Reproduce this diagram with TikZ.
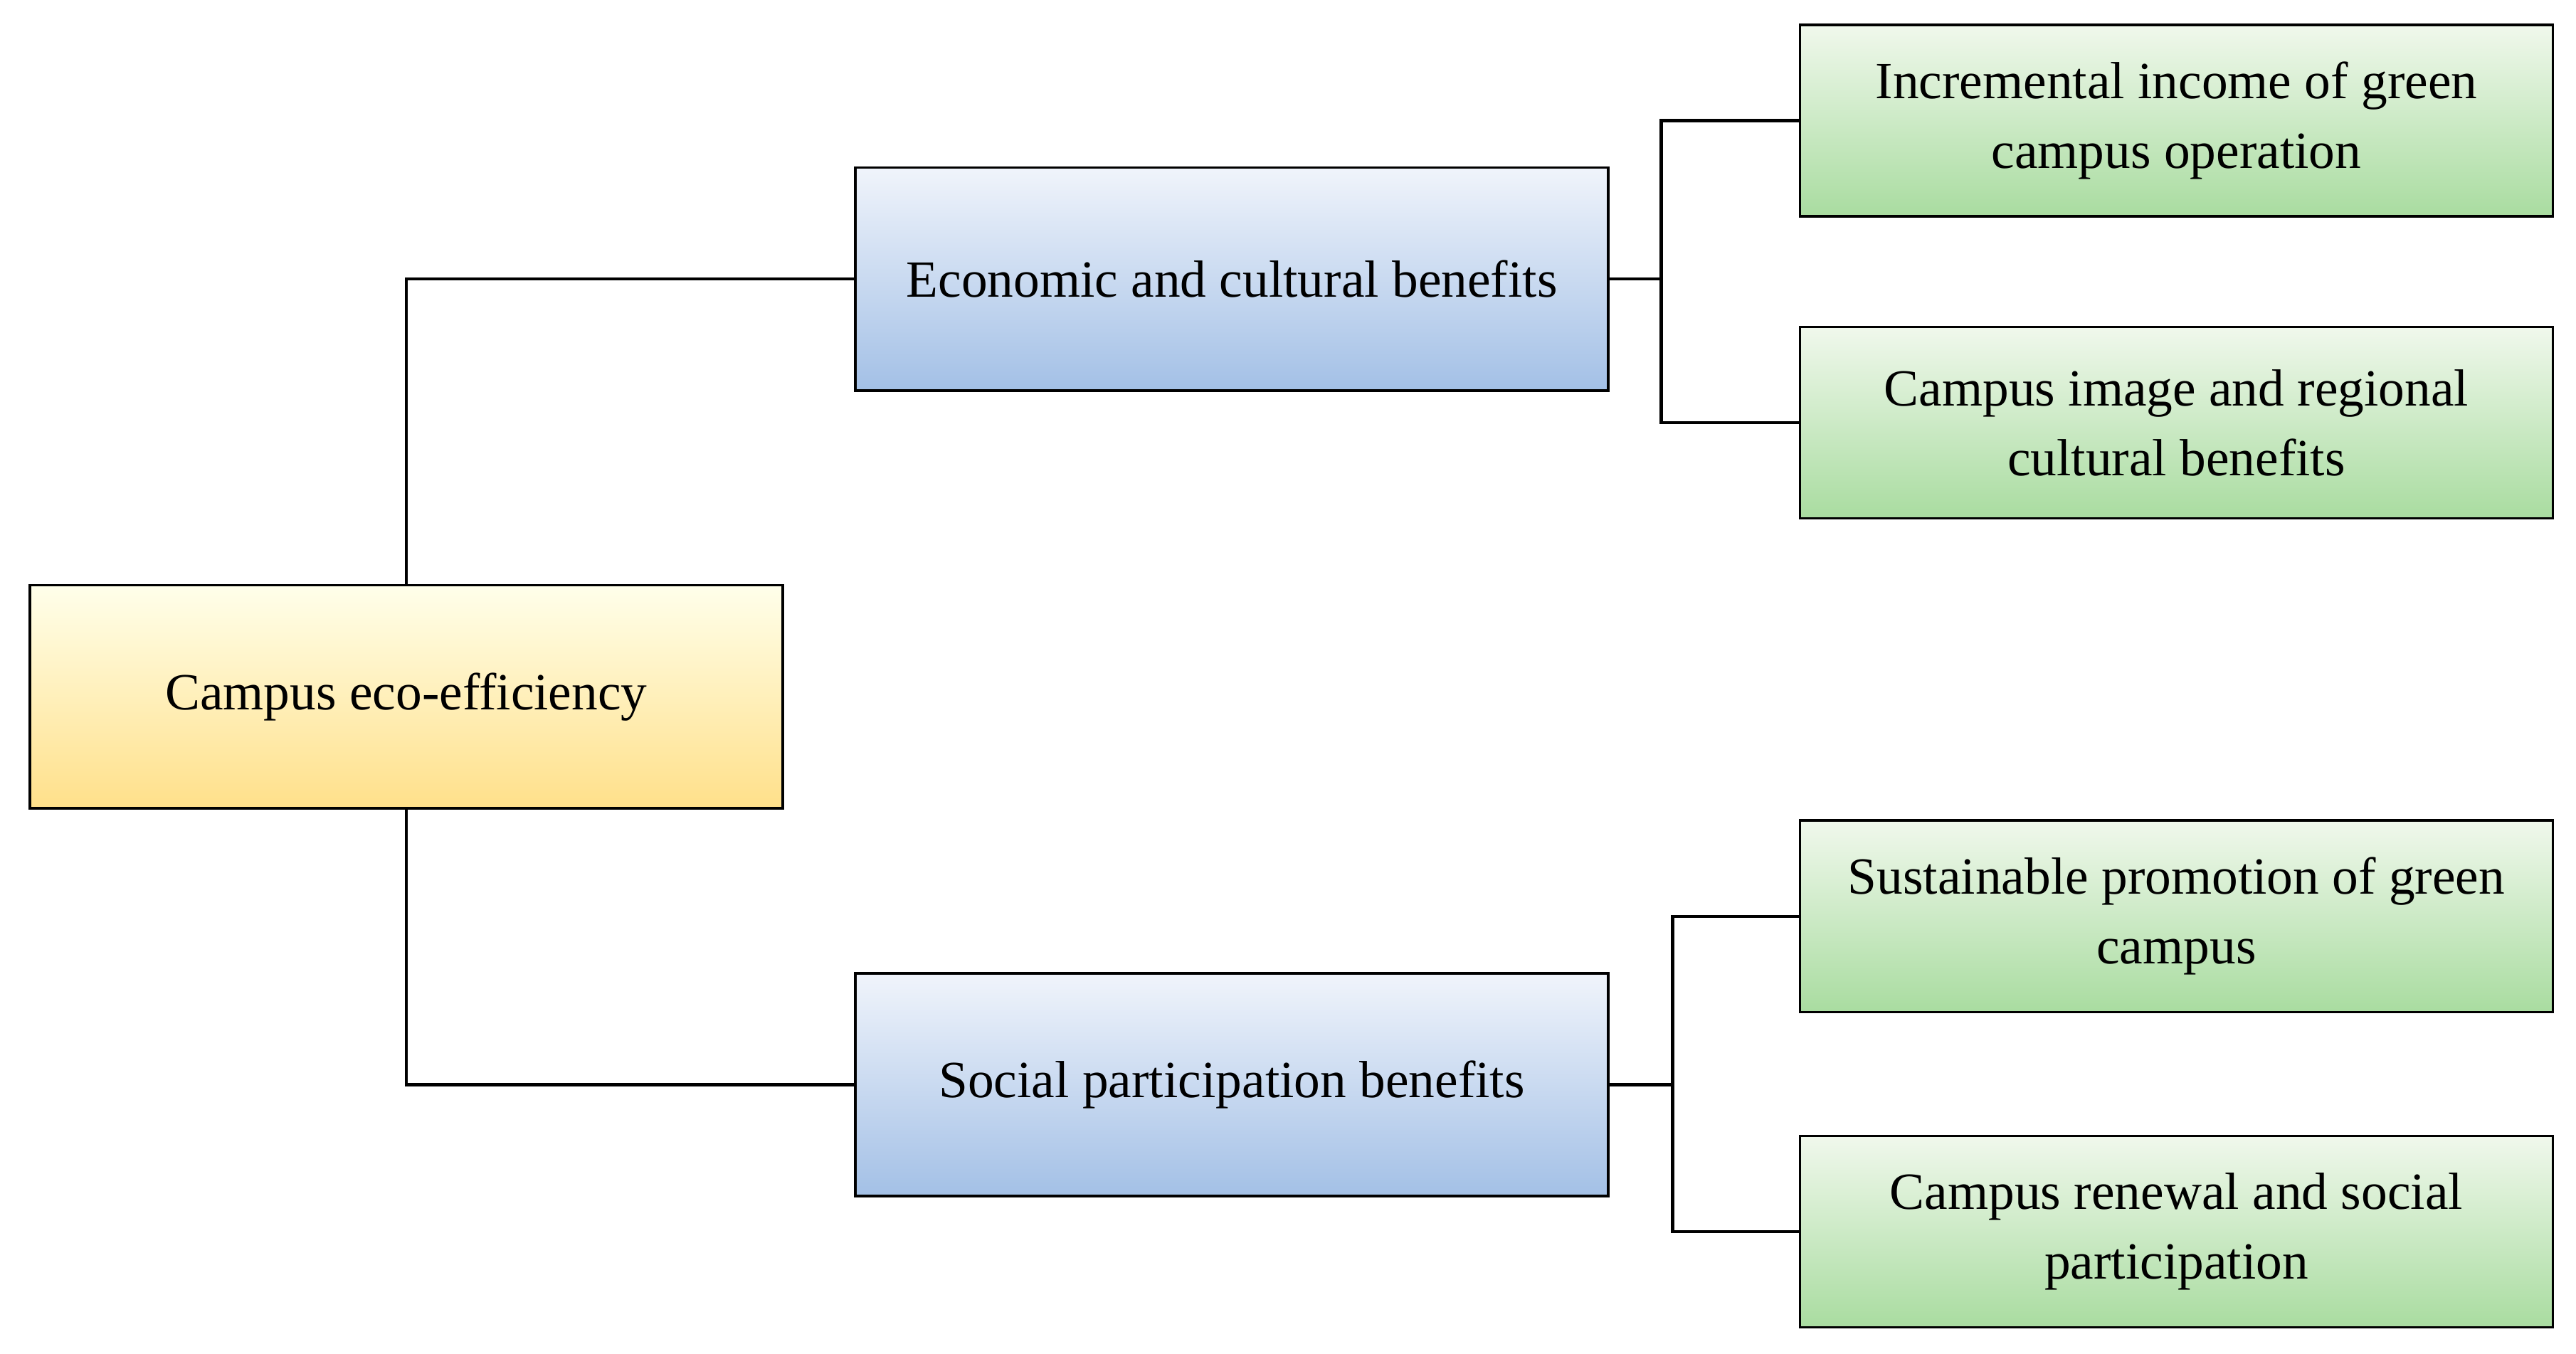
\documentclass[tikz,border=0pt]{standalone}
\usepackage{fontspec}
\setmainfont{Liberation Serif}
\begin{document}
\begin{tikzpicture}[x=0.02cm,y=-0.02cm,
 box/.style={draw=black,line width=0.9pt,minimum width=9.12cm,align=center,font=\fontsize{18}{24}\selectfont,inner sep=0pt},
 yel/.style={box,minimum height=2.7cm,top color=yellow!8,bottom color={rgb,255:red,255;green,224;blue,138}},
 blu/.style={box,minimum height=2.7cm,top color={rgb,255:red,240;green,244;blue,251},bottom color={rgb,255:red,163;green,192;blue,230}},
 grn/.style={box,minimum height=2.32cm,top color={rgb,255:red,240;green,248;blue,236},bottom color={rgb,255:red,169;green,220;blue,160}},
 ln/.style={line width=1.1pt}]
\useasboundingbox (0,0) rectangle (1560,820);
\node[yel] (root) at (246,422) {Campus eco-efficiency};
\node[blu] (econ) at (746,169) {Economic and cultural benefits};
\node[blu] (soc) at (746,657) {Social participation benefits};
\node[grn] (g1) at (1318,73) {Incremental income of green\\campus operation};
\node[grn] (g2) at (1318,256) {Campus image and regional\\cultural benefits};
\node[grn] (g3) at (1318,555) {Sustainable promotion of green\\campus};
\node[grn] (g4) at (1318,746) {Campus renewal and social\\participation};
\draw[ln] (root.north) |- (econ.west);
\draw[ln] (root.south) |- (soc.west);
\coordinate (e1) at (1006,169);
\coordinate (s1) at (1013,657);
\draw[ln] (econ.east) -- (e1);
\draw[ln] (e1) |- (g1.west);
\draw[ln] (e1) |- (g2.west);
\draw[ln] (soc.east) -- (s1);
\draw[ln] (s1) |- (g3.west);
\draw[ln] (s1) |- (g4.west);
\end{tikzpicture}
\end{document}
